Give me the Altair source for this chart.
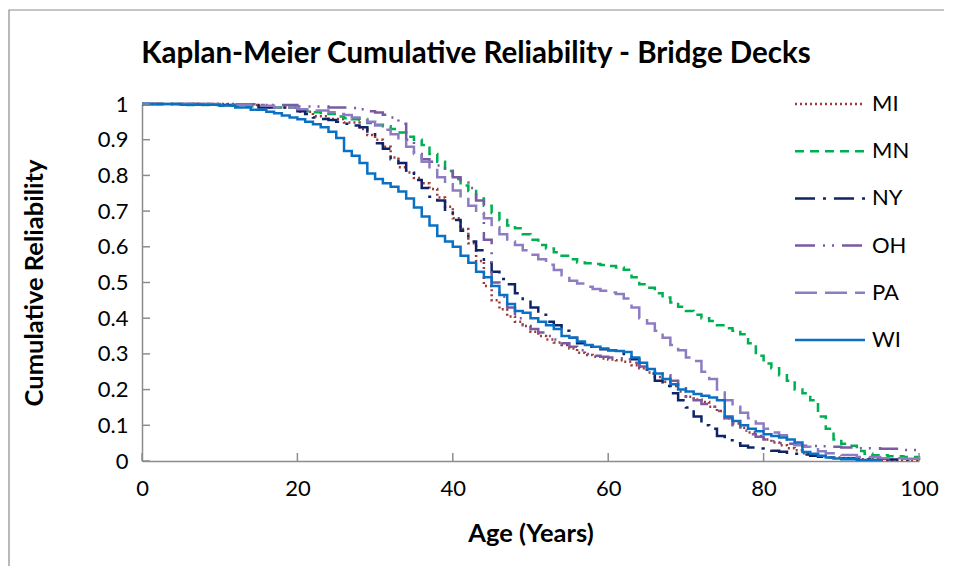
import altair as alt
import pandas as pd

TITLE = "Kaplan-Meier Cumulative Reliability - Bridge Decks"
SERIES = ["MI", "MN", "NY", "OH", "PA", "WI"]
COLORS = ["#9B3B38", "#00B050", "#0F2466", "#7A5BA3", "#8E7CC3", "#0A70C4"]
DASHES = [[2, 3], [9, 6], [20, 8, 3, 8], [20, 8, 2, 7, 2, 8], [22, 8], [1, 0]]

X_TICKS = [0, 20, 40, 60, 80, 100]
Y_TICKS = [0, 0.1, 0.2, 0.3, 0.4, 0.5, 0.6, 0.7, 0.8, 0.9, 1.0]

MI_AGE = [0, 12, 16, 20, 22, 24, 26, 28] + list(range(29, 89)) + [90, 92, 95, 100]
MI_VAL = [1, 0.997, 0.99, 0.978, 0.966, 0.958, 0.948, 0.93,
          0.913, 0.9, 0.88, 0.85, 0.823, 0.808, 0.793, 0.778, 0.762, 0.738,
          0.712, 0.68, 0.65, 0.61, 0.56, 0.49, 0.45, 0.425, 0.405, 0.39,
          0.378, 0.362, 0.35, 0.34, 0.332, 0.325, 0.315, 0.303, 0.297, 0.292,
          0.287, 0.284, 0.282, 0.278, 0.268, 0.26, 0.248, 0.235, 0.222, 0.21,
          0.195, 0.18, 0.172, 0.165, 0.152, 0.14, 0.12, 0.105, 0.093, 0.08,
          0.07, 0.06, 0.052, 0.044, 0.036, 0.03, 0.022, 0.018, 0.014, 0.01,
          0.007, 0.005, 0.003, 0.002]

MN_AGE = [0, 5, 10, 14, 17, 20] + list(range(21, 95)) + [96, 98, 100]
MN_VAL = [1, 0.997, 0.995, 0.993, 0.99, 0.985,
          0.98, 0.977, 0.975, 0.972, 0.965, 0.96, 0.957, 0.955, 0.947, 0.942,
          0.938, 0.93, 0.92, 0.908, 0.9, 0.885, 0.86, 0.838, 0.812, 0.79,
          0.772, 0.756, 0.735, 0.715, 0.695, 0.675, 0.66, 0.652, 0.635, 0.62,
          0.605, 0.595, 0.585, 0.575, 0.565, 0.556, 0.554, 0.552, 0.549, 0.546,
          0.542, 0.536, 0.515, 0.495, 0.485, 0.47, 0.458, 0.444, 0.432, 0.42,
          0.41, 0.4, 0.392, 0.38, 0.372, 0.365, 0.355, 0.33, 0.295, 0.273,
          0.26, 0.24, 0.225, 0.2, 0.19, 0.17, 0.125, 0.09, 0.06, 0.048,
          0.043, 0.028, 0.02, 0.016,
          0.013, 0.011, 0.01]

NY_AGE = [0, 10, 15, 20] + list(range(21, 89)) + [90, 92, 96, 100]
NY_VAL = [1, 0.997, 0.99, 0.98,
          0.972, 0.962, 0.958, 0.955, 0.95, 0.945, 0.94, 0.935, 0.915, 0.89,
          0.875, 0.845, 0.835, 0.81, 0.787, 0.765, 0.74, 0.73, 0.7, 0.675,
          0.645, 0.615, 0.59, 0.555, 0.53, 0.51, 0.495, 0.47, 0.45, 0.43,
          0.41, 0.39, 0.38, 0.365, 0.345, 0.33, 0.32, 0.315, 0.313, 0.31,
          0.305, 0.3, 0.285, 0.265, 0.245, 0.225, 0.21, 0.19, 0.17, 0.15,
          0.125, 0.1, 0.09, 0.07, 0.058, 0.05, 0.043, 0.038, 0.035, 0.032,
          0.029, 0.026, 0.023, 0.02, 0.018, 0.015, 0.012, 0.01,
          0.007, 0.006, 0.004, 0.003]

OH_AGE = [0, 10, 15, 20, 24, 27] + list(range(28, 89)) + [90, 92, 95, 98, 100]
OH_VAL = [1, 0.999, 0.997, 0.993, 0.99, 0.989,
          0.985, 0.98, 0.976, 0.97, 0.962, 0.945, 0.9, 0.86, 0.845, 0.838,
          0.828, 0.812, 0.795, 0.78, 0.765, 0.73, 0.62, 0.5, 0.46, 0.43,
          0.4, 0.38, 0.37, 0.36, 0.35, 0.34, 0.33, 0.32, 0.31, 0.3,
          0.295, 0.292, 0.29, 0.288, 0.285, 0.275, 0.265, 0.258, 0.25, 0.24,
          0.225, 0.21, 0.18, 0.17, 0.16, 0.152, 0.14, 0.12, 0.1, 0.085,
          0.075, 0.068, 0.06, 0.055, 0.05, 0.048, 0.045, 0.043, 0.042, 0.041, 0.04,
          0.038, 0.036, 0.034, 0.031, 0.03]

PA_AGE = [0, 10, 14, 17, 20, 22, 24] + list(range(25, 89)) + [90, 92, 95, 98, 100]
PA_VAL = [1, 0.998, 0.995, 0.99, 0.985, 0.982, 0.977,
          0.972, 0.969, 0.962, 0.958, 0.95, 0.94, 0.928, 0.915, 0.9, 0.88,
          0.86, 0.838, 0.815, 0.795, 0.775, 0.758, 0.738, 0.715, 0.695, 0.68,
          0.655, 0.635, 0.615, 0.605, 0.59, 0.578, 0.565, 0.55, 0.535, 0.52,
          0.505, 0.497, 0.488, 0.482, 0.477, 0.472, 0.468, 0.455, 0.43, 0.4,
          0.385, 0.365, 0.345, 0.325, 0.31, 0.29, 0.28, 0.25, 0.23, 0.2,
          0.17, 0.152, 0.135, 0.12, 0.105, 0.09, 0.08, 0.072, 0.055, 0.045,
          0.04, 0.033, 0.027, 0.022,
          0.017, 0.011, 0.008, 0.006, 0.005]

WI_AGE = [0, 5, 10, 12, 14, 16, 17, 18, 19] + list(range(20, 91)) + [92, 95]
WI_VAL = [1, 0.998, 0.996, 0.99, 0.984, 0.978, 0.974, 0.968, 0.962,
          0.957, 0.95, 0.943, 0.935, 0.922, 0.905, 0.868, 0.855, 0.835, 0.805,
          0.79, 0.778, 0.768, 0.755, 0.735, 0.71, 0.685, 0.66, 0.63, 0.615,
          0.6, 0.575, 0.555, 0.53, 0.515, 0.49, 0.465, 0.44, 0.42, 0.415,
          0.4, 0.39, 0.38, 0.37, 0.35, 0.345, 0.335, 0.325, 0.32, 0.315,
          0.31, 0.308, 0.305, 0.29, 0.275, 0.258, 0.245, 0.23, 0.215, 0.2,
          0.195, 0.188, 0.183, 0.178, 0.17, 0.125, 0.112, 0.1, 0.09, 0.083,
          0.075, 0.07, 0.066, 0.06, 0.052, 0.025, 0.02, 0.015, 0.01, 0.007,
          0.005,
          0.003, 0.0]

DATA = {"MI": (MI_AGE, MI_VAL), "MN": (MN_AGE, MN_VAL), "NY": (NY_AGE, NY_VAL),
        "OH": (OH_AGE, OH_VAL), "PA": (PA_AGE, PA_VAL), "WI": (WI_AGE, WI_VAL)}

rows = []
for s in SERIES:
    ages, vals = DATA[s]
    if len(ages) != len(vals):
        raise ValueError(f"{s}: {len(ages)} ages vs {len(vals)} values")
    for a, v in zip(ages, vals):
        rows.append({"series": s, "age": a, "rel": v})
df = pd.DataFrame(rows)

W, H = 777, 357
FONT = "Lato"
AXIS_GRAY = "#8C8C8C"

X_SCALE = alt.Scale(domain=[0, 100], nice=False)
Y_SCALE = alt.Scale(domain=[0, 1], nice=False)
X_AXIS = alt.Axis(values=X_TICKS, title="Age (Years)", titlePadding=22,
                  titleFontSize=25.5, labelPadding=17, labelOverlap=False,
                  labelFlush=False, labelBound=False)
Y_AXIS = alt.Axis(values=Y_TICKS, format=".1~f", title="Cumulative Reliability",
                  titlePadding=50, titleFontSize=25.5, labelPadding=14,
                  labelOverlap=False, labelBound=False, labelFlush=False)

color = alt.Color("series:N", scale=alt.Scale(domain=SERIES, range=COLORS), legend=None)
dash = alt.StrokeDash("series:N", scale=alt.Scale(domain=SERIES, range=DASHES), legend=None)

lines = alt.Chart(df).mark_line(interpolate="step-after", strokeWidth=2.5).encode(
    x=alt.X("age:Q", scale=X_SCALE, axis=X_AXIS),
    y=alt.Y("rel:Q", scale=Y_SCALE, axis=Y_AXIS),
    color=color,
    strokeDash=dash,
    order=alt.Order("age:Q"),
)

xt = alt.Chart(pd.DataFrame({"age": X_TICKS})).mark_rule(color=AXIS_GRAY, strokeWidth=1.5).encode(
    x=alt.X("age:Q", scale=X_SCALE, axis=X_AXIS), y=alt.value(H - 8), y2=alt.value(H))
yt = alt.Chart(pd.DataFrame({"rel": Y_TICKS})).mark_rule(color=AXIS_GRAY, strokeWidth=1.5).encode(
    y=alt.Y("rel:Q", scale=Y_SCALE, axis=Y_AXIS), x=alt.value(0), x2=alt.value(8))

leg_df = pd.DataFrame({"series": SERIES})
leg_y = alt.Y("series:N", scale=alt.Scale(type="point", domain=SERIES, range=[0, 236], padding=0),
              axis=None)
leg_rule = alt.Chart(leg_df).mark_rule(strokeWidth=2.5).encode(
    y=leg_y, x=alt.value(653), x2=alt.value(723), color=color, strokeDash=dash)
leg_text = alt.Chart(leg_df).mark_text(align="left", baseline="middle", font=FONT,
                                        fontSize=22, color="black").encode(
    y=leg_y, x=alt.value(730), text="series:N")

frame = alt.Chart(alt.Data(values=[{}])).mark_rect(
    fill="transparent", stroke=AXIS_GRAY, strokeWidth=1.2).encode(
    x=alt.value(-133), y=alt.value(-94), x2=alt.value(1000), y2=alt.value(800))

title = alt.Chart(alt.Data(values=[{"t": TITLE}])).mark_text(
    align="center", baseline="alphabetic", font=FONT, fontSize=29.5, fontWeight="bold",
    color="black").encode(text="t:N", x=alt.value(334), y=alt.value(-41))

main = alt.layer(frame, title, lines, xt, yt)
legend = alt.layer(leg_rule, leg_text)

chart = alt.layer(main, legend).resolve_scale(y="independent").properties(
    width=W, height=H,
    autosize=alt.AutoSizeParams(type="none"),
    padding={"left": 134, "top": 96, "right": 25, "bottom": 105},
    background="white",
).configure_view(stroke="transparent").configure_axis(
    grid=False, ticks=False, domainColor=AXIS_GRAY, domainWidth=1.5,
    labelFont=FONT, labelFontSize=22, labelColor="black",
    titleFont=FONT, titleFontWeight="bold", titleColor="black",
)

chart.save("out.html", embed_options={"renderer": "svg", "actions": False})
